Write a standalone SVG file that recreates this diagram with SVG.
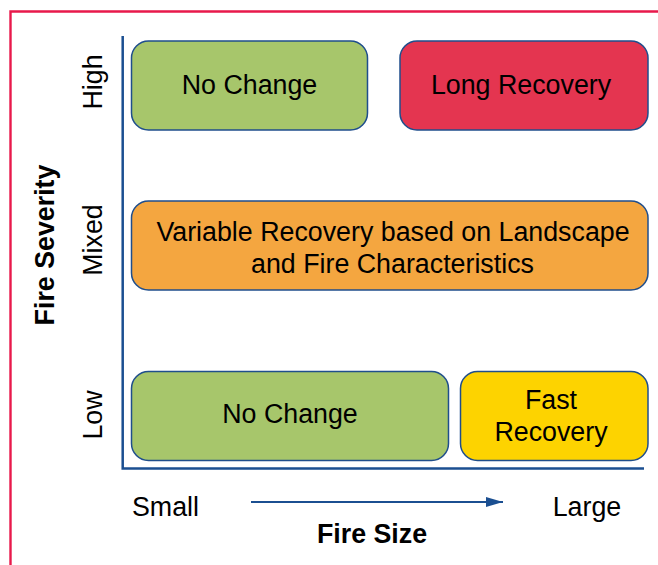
<svg xmlns="http://www.w3.org/2000/svg" width="658" height="565" viewBox="0 0 658 565">
<style>
  .box { stroke: #1f4e8c; stroke-width: 1.5; }
  .t { font-family: "Liberation Sans", Arial, sans-serif; font-size: 26.8px; fill: #000; text-anchor: middle; }
  .b { font-weight: bold; }
  .axis { stroke: #1b4f91; stroke-width: 2.5; fill: none; }
</style>
<defs>
  <marker id="arr" viewBox="0 0 17 10" refX="17" refY="5" markerWidth="17" markerHeight="10" markerUnits="userSpaceOnUse" orient="auto">
    <path d="M0,0 L17,5 L0,10 z" fill="#1b4f91"/>
  </marker>
</defs>
<rect width="658" height="565" fill="#fff"/>
<path d="M10.5,565 V11.5 H658" fill="none" stroke="#e8194b" stroke-width="2.4"/>

<g id="axes">
  <path class="axis" d="M122.7,36 V468.5 H644"/>
</g>

<g id="connectors">
  <line x1="251" y1="502" x2="503" y2="502" stroke="#1b4f91" stroke-width="2" marker-end="url(#arr)"/>
</g>

<g id="high-no-change">
  <rect class="box" x="131.5" y="41" width="236" height="89" rx="17" fill="#a7c66b"/>
  <text class="t" x="249.5" y="94">No Change</text>
</g>
<g id="long-recovery">
  <rect class="box" x="400" y="41" width="248" height="89" rx="17" fill="#e43550"/>
  <text class="t" x="521" y="94">Long Recovery</text>
</g>
<g id="variable-recovery">
  <rect class="box" x="131.5" y="201" width="516.5" height="89" rx="17" fill="#f4a640"/>
  <text class="t" x="393" y="241">Variable Recovery based on Landscape</text>
  <text class="t" x="392.5" y="273">and Fire Characteristics</text>
</g>
<g id="low-no-change">
  <rect class="box" x="131.5" y="371.5" width="317" height="89" rx="17" fill="#a7c66b"/>
  <text class="t" x="290" y="423">No Change</text>
</g>
<g id="fast-recovery">
  <rect class="box" x="460.5" y="371.5" width="187.5" height="89" rx="17" fill="#fdd300"/>
  <text class="t" x="551" y="409">Fast</text>
  <text class="t" x="551" y="441">Recovery</text>
</g>

<g id="y-labels">
  <text class="t" transform="translate(102,82) rotate(-90)">High</text>
  <text class="t" transform="translate(102,240) rotate(-90)">Mixed</text>
  <text class="t" transform="translate(102,415) rotate(-90)">Low</text>
  <text class="t b" transform="translate(54,245) rotate(-90)">Fire Severity</text>
</g>
<g id="x-labels">
  <text class="t" x="165.5" y="516">Small</text>
  <text class="t" x="587" y="516">Large</text>
  <text class="t b" x="372" y="543">Fire Size</text>
</g>
</svg>
